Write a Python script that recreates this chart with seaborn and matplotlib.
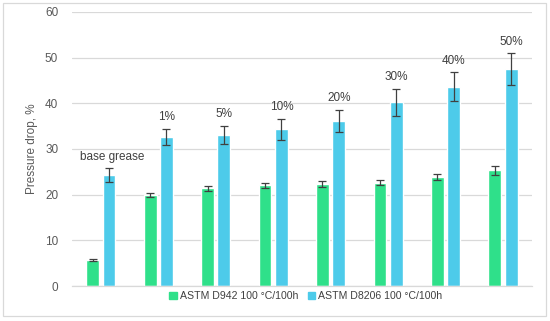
import numpy as np
import pandas as pd
import seaborn as sns
import matplotlib.pyplot as plt
from matplotlib.patches import Rectangle

# Values
concentrations = ["base grease", "1%", "5%", "10%", "20%", "30%", "40%", "50%"]
series_names = ["ASTM D942 100 °C/100h", "ASTM D8206 100 °C/100h"]
d942_drop = [5.7, 19.9, 21.4, 22.0, 22.3, 22.6, 23.9, 25.3]
d942_err = [0.15, 0.4, 0.5, 0.5, 0.6, 0.6, 0.6, 0.9]
d8206_drop = [24.3, 32.6, 33.1, 34.3, 36.1, 40.2, 43.6, 47.4]
d8206_err = [1.5, 1.8, 2.0, 2.3, 2.5, 3.0, 3.2, 3.5]

colors = ["#2fe08a", "#4dcbea"]
grey = "#595959"


def build_frame():
    rows = []
    for name, vals, errs in [(series_names[0], d942_drop, d942_err),
                             (series_names[1], d8206_drop, d8206_err)]:
        for c, v, e in zip(concentrations, vals, errs):
            rows.append({"Concentration": c, "Test": name,
                         "Pressure drop, %": v, "err": e})
    return pd.DataFrame(rows)


def create_plot(data):
    sns.set_style("white")
    plt.rcParams["font.family"] = ["Liberation Sans", "DejaVu Sans"]

    fig = plt.figure(figsize=(5.5, 3.21), dpi=100)
    ax = fig.add_axes([0.131, 0.109, 0.836, 0.854])

    sns.barplot(
        data=data,
        x="Concentration",
        y="Pressure drop, %",
        hue="Test",
        hue_order=series_names,
        order=concentrations,
        palette=colors,
        width=0.57,
        gap=0.21,
        errorbar=None,
        saturation=1,
        ax=ax,
    )

    # error bars on top of the bars drawn by seaborn
    for container, name in zip(ax.containers, series_names):
        sub = data[data["Test"] == name].set_index("Concentration").loc[concentrations]
        xs = [p.get_x() + p.get_width() / 2 for p in container.patches]
        ax.errorbar(xs, sub["Pressure drop, %"], yerr=sub["err"], fmt="none",
                    ecolor="#404040", elinewidth=0.9, capsize=3, capthick=0.9,
                    zorder=4)

    # labels above the D8206 bars
    blue = data[data["Test"] == series_names[1]].set_index("Concentration").loc[concentrations]
    xs = [p.get_x() + p.get_width() / 2 for p in ax.containers[1].patches]
    for x, (lab, row) in zip(xs, blue.iterrows()):
        ax.text(x + (0.05 if lab == "base grease" else 0), row["Pressure drop, %"] + row["err"] + 1.2,
                lab, ha="center", va="bottom", fontsize=8.5, color="#404040")

    ax.set_ylim(0, 60)
    ax.set_yticks(np.arange(0, 61, 10))
    ax.set_xlim(-0.5, len(concentrations) - 0.5)
    ax.set_xticks([])
    ax.set_xlabel("")
    ax.set_ylabel("Pressure drop, %", fontsize=8.5, color=grey, labelpad=5)
    ax.tick_params(axis="y", labelsize=8.5, labelcolor=grey, length=0, pad=10)
    ax.grid(axis="y", color="#d9d9d9", linewidth=0.9)
    ax.set_axisbelow(True)
    for side in ["left", "right", "top"]:
        ax.spines[side].set_visible(False)
    ax.spines["bottom"].set_color("#d9d9d9")
    ax.spines["bottom"].set_linewidth(0.9)

    ax.legend_.remove()
    handles = [Rectangle((0, 0), 1, 1, color=c) for c in colors]
    fig.legend(handles, series_names, loc="center", bbox_to_anchor=(0.556, 0.078),
               ncol=2, frameon=False, fontsize=7.6, handlelength=0.7, handleheight=0.7,
               handletextpad=0.3, columnspacing=0.9, labelcolor="#404040")

    # light frame around the whole chart
    fig.add_artist(Rectangle((0.005, 0.015), 0.988, 0.975, transform=fig.transFigure,
                             fill=False, edgecolor="#d9d9d9", linewidth=0.9))

    fig.savefig("out.png", dpi=100)


create_plot(build_frame())
